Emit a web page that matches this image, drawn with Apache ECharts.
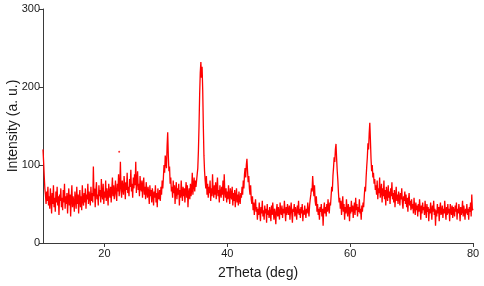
<!DOCTYPE html>
<html>
<head>
<meta charset="UTF-8">
<title>XRD pattern</title>
<script src="https://cdn.jsdelivr.net/npm/echarts@6/dist/echarts.min.js"></script>
<style>
    * { margin: 0; padding: 0; }
    body { background: #fff; }
    #chart { width: 484px; height: 286px; }
</style>
</head>
<body>
<div id="chart"></div>
<script>
    // 2theta grid: 10.0 .. 80.0 step 0.1
    var thetaStart = 10;
    var thetaStep = 0.1;
    var xTicks = [20, 40, 60, 80];
    var yTicks = [0, 100, 200, 300];
    // one row per degree
    var intensity = [
        120,104,86,70,62,50,66,54,72,48,
        60,44,70,56,38,64,50,74,46,58,
        40,66,52,72,48,60,36,62,54,70,
        46,58,42,68,52,76,44,60,50,64,
        38,56,70,48,62,34,58,74,46,60,
        52,40,66,56,44,72,50,62,38,58,
        68,46,60,42,74,54,48,64,52,70,
        44,62,56,76,50,66,58,48,72,54,
        64,52,98,60,70,46,66,78,56,62,
        48,74,60,68,52,82,62,56,76,50,
        66,58,80,54,70,62,48,76,64,58,
        72,52,68,84,60,74,56,66,80,62,
        54,76,66,88,60,72,104,68,58,80,
        70,62,86,74,56,78,68,90,64,72,
        60,82,72,94,66,76,58,84,70,88,
        74,104,64,80,92,68,76,60,86,72,
        66,80,58,74,84,62,72,56,78,66,
        58,72,64,50,74,60,68,52,70,62,
        48,66,58,74,52,64,46,70,60,56,
        68,54,72,62,80,70,84,100,90,112,
        104,96,124,142,112,92,98,76,84,66,
        72,58,80,64,74,50,68,78,56,70,
        62,76,48,68,58,80,64,54,72,60,
        70,52,66,78,58,74,46,64,70,56,
        76,60,68,90,62,74,84,66,80,72,
        70,88,96,118,150,190,218,232,212,226,
        196,150,112,92,80,70,86,62,76,58,
        72,64,80,54,70,60,88,66,58,74,
        62,78,56,70,84,60,68,52,74,64,
        58,72,62,80,54,88,66,58,70,52,
        66,56,74,60,50,70,62,56,72,48,
        64,54,68,46,60,70,52,62,48,66,
        56,50,64,58,72,62,80,70,88,96,
        84,100,108,92,78,86,70,62,74,56,
        50,60,42,52,36,48,56,40,46,30,
        44,36,52,40,28,46,38,54,34,42,
        30,48,38,44,26,50,36,42,32,46,
        38,28,48,36,52,40,30,44,38,24,
        42,50,34,46,38,30,52,40,36,48,
        32,44,38,54,40,28,46,36,50,42,
        36,48,30,42,52,38,26,44,40,50,
        34,46,40,30,48,38,54,36,44,32,
        46,38,50,28,42,36,48,40,32,44,
        38,52,42,34,48,56,62,70,66,86,
        72,60,74,54,48,60,40,50,36,44,
        30,46,40,50,34,44,22,42,52,38,
        46,34,50,40,56,44,38,52,48,60,
        72,66,86,97,110,104,120,127,108,92,
        80,64,52,58,44,54,36,48,60,40,
        50,30,46,38,56,42,34,50,44,28,
        46,38,54,40,48,32,44,52,36,58,
        42,50,34,46,40,56,38,44,30,48,
        40,52,46,60,72,66,84,98,110,128,
        120,140,154,132,108,92,100,84,90,76,
        82,68,74,62,80,56,70,64,84,58,
        66,76,52,70,60,80,56,68,48,72,
        62,54,74,58,66,50,70,60,78,56,
        64,52,68,46,60,72,54,62,50,66,
        58,48,64,56,70,52,44,60,54,66,
        50,62,46,58,40,56,64,48,54,42,
        56,44,50,38,58,46,36,52,42,48,
        34,50,40,56,44,30,48,38,52,42,
        46,36,54,42,32,50,40,46,28,44,
        38,52,42,30,48,40,54,36,44,22,
        42,34,50,38,46,28,44,52,36,40,
        48,32,44,38,54,40,30,46,36,50,
        38,44,28,50,42,36,48,32,46,40,
        34,48,40,52,30,44,38,50,42,28,
        46,36,42,54,34,48,40,30,44,38,
        50,36,44,30,46,40,52,34,62,42,
        44
    ];
    // lone stray dot above the hump
    var strayPoint = [[22.4, 117]];

    var points = intensity.map(function (v, i) {
        return [+(thetaStart + i * thetaStep).toFixed(1), v];
    });

    var axisColor = '#3a3a3a';
    var font = 'Liberation Sans, Arial, sans-serif';

    var chart = echarts.init(document.getElementById('chart'));
    chart.setOption({
        animation: false,
        backgroundColor: '#ffffff',
        grid: { left: 43, right: 11, top: 9, bottom: 43, containLabel: false, outerBoundsMode: 'none' },
        xAxis: {
            type: 'value',
            min: 10,
            max: 80,
            name: '2Theta (deg)',
            nameLocation: 'middle',
            nameGap: 23,
            nameTextStyle: { fontSize: 14, color: '#1a1a1a', fontFamily: font },
            axisLine: { show: true, onZero: false, lineStyle: { color: axisColor, width: 1 } },
            axisTick: { show: true, length: 4, customValues: xTicks, lineStyle: { color: axisColor } },
            axisLabel: { customValues: xTicks, fontSize: 11, color: '#1a1a1a', fontFamily: font, margin: 5 },
            splitLine: { show: false }
        },
        yAxis: {
            type: 'value',
            min: 0,
            max: 300,
            interval: 100,
            name: 'Intensity (a. u.)',
            nameLocation: 'middle',
            nameGap: 23,
            nameMoveOverlap: false,
            nameTextStyle: { fontSize: 14, color: '#1a1a1a', fontFamily: font },
            axisLine: { show: true, lineStyle: { color: axisColor, width: 1 } },
            axisTick: { show: true, length: 4, lineStyle: { color: axisColor } },
            axisLabel: { fontSize: 11, color: '#1a1a1a', fontFamily: font, margin: 3 },
            splitLine: { show: false }
        },
        series: [{
            type: 'line',
            data: points,
            showSymbol: false,
            lineStyle: { color: '#ff0000', width: 1.3 },
            itemStyle: { color: '#ff0000' }
        }, {
            type: 'scatter',
            data: strayPoint,
            symbolSize: 2,
            itemStyle: { color: '#ff0000' }
        }]
    });
</script>
</body>
</html>
